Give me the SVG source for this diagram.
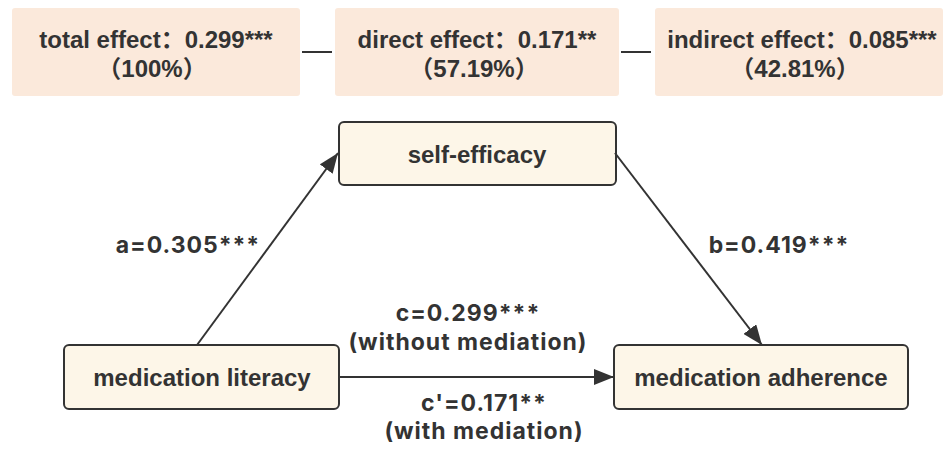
<svg xmlns="http://www.w3.org/2000/svg" width="950" height="452" viewBox="0 0 950 452">
<defs>
<style>
.sum{fill:#fbe9db;}
.node{fill:#fdf6e8;stroke:#333;stroke-width:2;}
.t{font-family:"Liberation Sans","Noto Sans CJK SC",Arial,sans-serif;font-weight:bold;fill:#333;text-anchor:middle;}
.lab{font-family:Inter,"Noto Sans","Noto Sans CJK SC",sans-serif;font-weight:bold;fill:#333;text-anchor:middle;font-size:23px;letter-spacing:1px;}
.edge{stroke:#333;stroke-width:2;fill:none;}
</style>
<marker id="ah2" viewBox="0 0 20 16" refX="20" refY="8" markerWidth="20" markerHeight="16" markerUnits="userSpaceOnUse" orient="auto">
<path d="M0,0 L20,8 L0,16 z" fill="#333"/>
</marker>
</defs>
<g id="total-effect">
<rect class="sum" x="12" y="8" width="288" height="88" rx="3"/>
<text class="t" x="156" y="48" font-size="24">total effect：0.299***</text>
<text class="t" x="152" y="77" font-size="24">（100%）</text>
</g>
<g id="direct-effect">
<rect class="sum" x="335" y="8" width="284" height="88" rx="3"/>
<text class="t" x="477" y="48" font-size="24">direct effect：0.171**</text>
<text class="t" x="474" y="77" font-size="24">（57.19%）</text>
</g>
<g id="indirect-effect">
<rect class="sum" x="655" y="8" width="288" height="88" rx="3"/>
<text class="t" x="802" y="48" font-size="24">indirect effect：0.085***</text>
<text class="t" x="795" y="77" font-size="24">（42.81%）</text>
</g>
<g id="self-efficacy">
<rect class="node" x="339" y="122" width="277" height="63" rx="5"/>
<text class="t" x="477" y="163" font-size="24">self-efficacy</text>
</g>
<g id="medication-literacy">
<rect class="node" x="64" y="345" width="275" height="64" rx="5"/>
<text class="t" x="202" y="386" font-size="24">medication literacy</text>
</g>
<g id="medication-adherence">
<rect class="node" x="614" y="345" width="294" height="64" rx="5"/>
<text class="t" x="761" y="386" font-size="24">medication adherence</text>
</g>
<g id="connectors">
<line class="edge" x1="302" y1="52" x2="332" y2="52"/>
<line class="edge" x1="621" y1="52" x2="651" y2="52"/>
<line class="edge" x1="197" y1="345" x2="338" y2="153" marker-end="url(#ah2)"/>
<line class="edge" x1="615" y1="153" x2="762" y2="345" marker-end="url(#ah2)"/>
<line class="edge" x1="339" y1="377" x2="614" y2="377" marker-end="url(#ah2)"/>
<text class="lab" x="188" y="253">a=0.305***</text>
<text class="lab" x="779" y="253">b=0.419***</text>
<text class="lab" x="468" y="321">c=0.299***</text>
<text class="lab" x="468" y="350">(without mediation)</text>
<text class="lab" x="484" y="411">c'=0.171**</text>
<text class="lab" x="484" y="439">(with mediation)</text>
</g>
</svg>
